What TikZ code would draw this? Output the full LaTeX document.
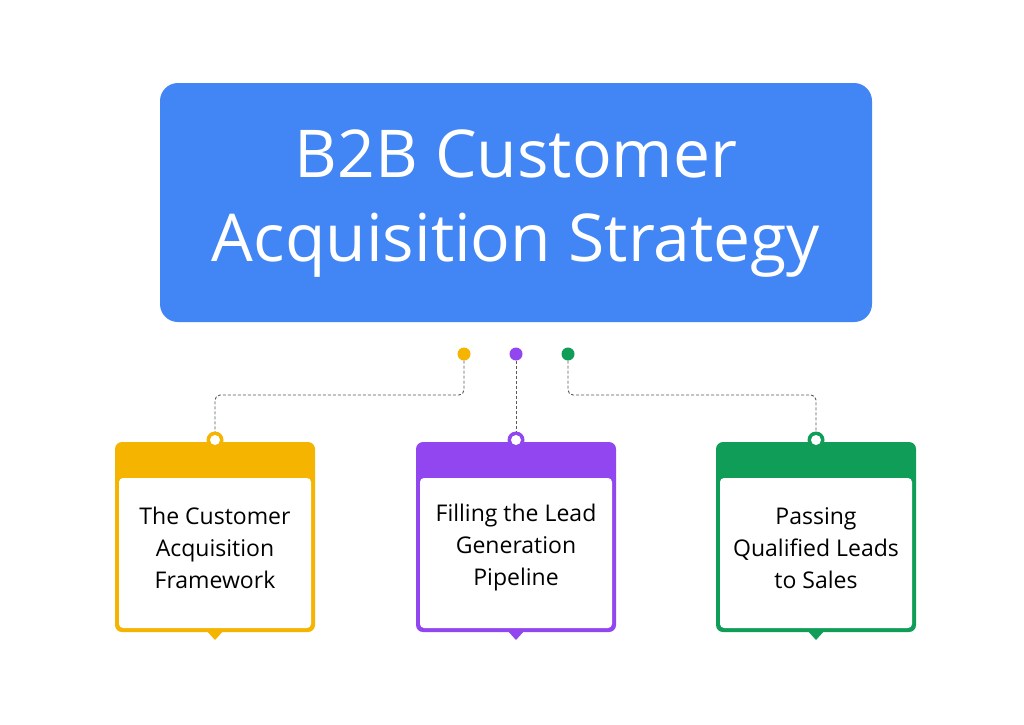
\documentclass[tikz,border=0pt]{standalone}
\usepackage{fontspec}
\setmainfont{Open Sans}
\definecolor{tblue}{HTML}{4285F4}
\definecolor{cyel}{HTML}{F4B400}
\definecolor{cpur}{HTML}{9146F0}
\definecolor{cgrn}{HTML}{0F9D58}
\begin{document}
\begin{tikzpicture}[x=1pt,y=-1pt,
  conn/.style={densely dashed,gray!70!black,line width=0.9pt,rounded corners=5pt},
  dot/.style={circle,inner sep=0pt,minimum size=13pt},
  cardtext/.style={font=\fontsize{23}{32}\selectfont,align=center,text=black}]
\useasboundingbox (0,0) rectangle (1024,724);
\fill[white] (0,0) rectangle (1024,724);
\fill[tblue,rounded corners=18pt] (160,83) rectangle (872,322);
\node[text=white,font=\fontsize{66}{84}\selectfont,align=center] (title) at (516,204) {B2B Customer\\Acquisition Strategy};
\foreach \cx/\col/\txt in {215/cyel/{The Customer\\Acquisition\\Framework},
  516/cpur/{Filling the Lead\\Generation\\Pipeline},
  816/cgrn/{Passing\\Qualified Leads\\to Sales}}{
  \fill[\col,rounded corners=7pt] (\cx-100,442) rectangle (\cx+100,632);
  \fill[\col] (\cx-9,630) -- (\cx,640) -- (\cx+9,630) -- cycle;
  \fill[white,rounded corners=4pt] (\cx-96,478) rectangle (\cx+96,628);
  \fill[\col] (\cx,440) circle (8.5);
  \fill[white] (\cx,440) circle (5);
  \node[cardtext] at (\cx,548) {\txt};
}
\coordinate (topa) at (215,432);
\coordinate (topb) at (516,432);
\coordinate (topc) at (816,432);
\node[dot,fill=cyel] (da) at (464,354) {};
\node[dot,fill=cpur] (db) at (516,354) {};
\node[dot,fill=cgrn] (dc) at (568,354) {};
\draw[conn] (da.south) -- (464,395) -- (215,395) -- (topa);
\draw[conn] (db.south) -- (topb);
\draw[conn] (dc.south) -- (568,395) -- (816,395) -- (topc);
\end{tikzpicture}
\end{document}
